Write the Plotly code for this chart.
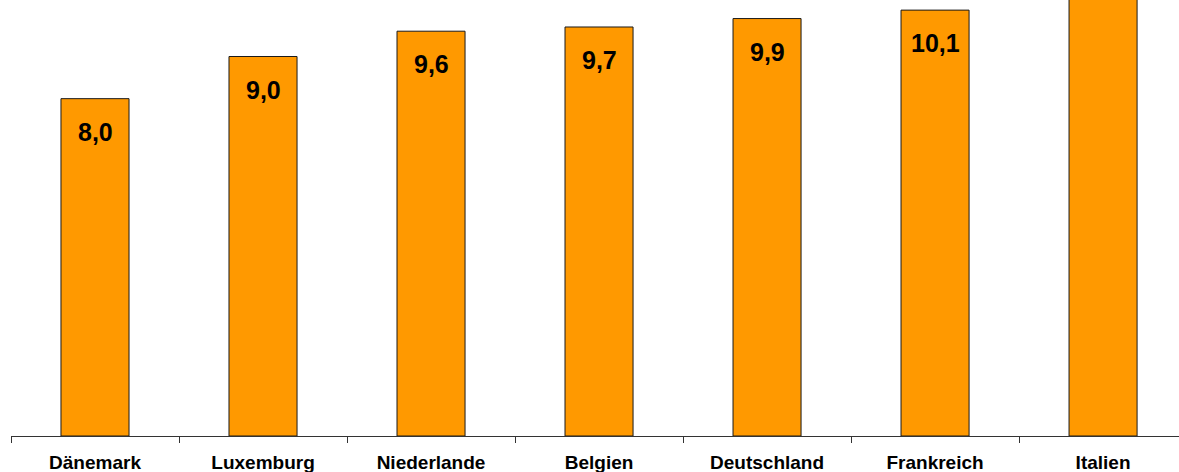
import plotly.graph_objects as go

categories = ["Dänemark", "Luxemburg", "Niederlande", "Belgien", "Deutschland", "Frankreich", "Italien"]
values = [8.0, 9.0, 9.6, 9.7, 9.9, 10.1, 10.9]
labels = ["8,0", "9,0", "9,6", "9,7", "9,9", "10,1", ""]

fig = go.Figure()
fig.add_trace(go.Bar(
    x=categories, y=values,
    marker=dict(color="#FF9900", line=dict(color="#1a1a1a", width=1)),
    hoverinfo="skip",
))

for c, v, t in zip(categories, values, labels):
    if t:
        fig.add_annotation(x=c, y=v, text="<b>%s</b>" % t, showarrow=False, yanchor="middle",
                           yshift=-33, font=dict(family="Liberation Sans, Arial", size=25, color="black"))

fig.update_layout(
    width=1179, height=472,
    margin=dict(l=11, r=0, t=0, b=36),
    paper_bgcolor="white", plot_bgcolor="white",
    bargap=0.595,
    showlegend=False,
    xaxis=dict(
        range=[-0.5, 6.452],
        tickson="boundaries", ticks="outside", ticklen=6, tickcolor="#333333", tickwidth=1,
        showline=True, linecolor="#333333", linewidth=1,
        showgrid=False, zeroline=False,
        tickfont=dict(family="Liberation Sans, Arial", size=19, color="black"),
        ticklabelstandoff=9,
        tickvals=categories,
        ticktext=["<b>%s</b>" % c for c in categories],
    ),
    yaxis=dict(range=[0, 10.34], visible=False, showgrid=False, zeroline=False),
)

fig.write_html("out.html", config={"displayModeBar": False, "staticPlot": True},
               post_script="document.body.style.margin='0';document.body.style.overflow='hidden';")
